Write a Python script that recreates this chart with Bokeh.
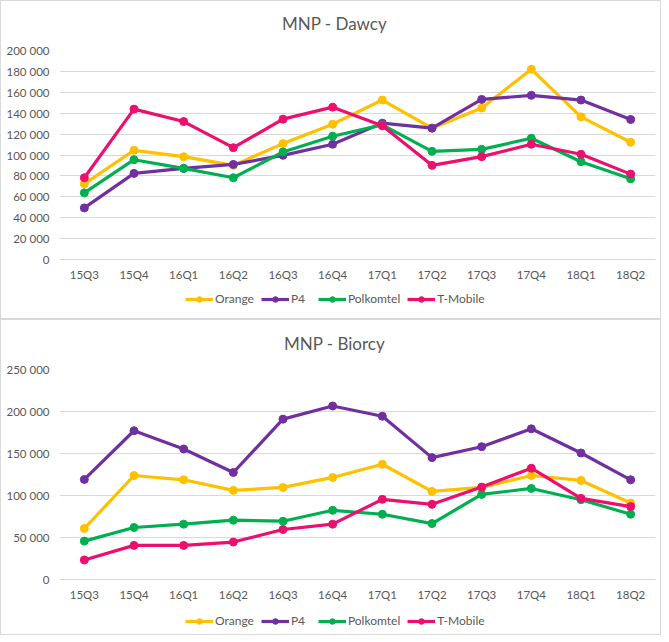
from bokeh.plotting import figure
from bokeh.models import FactorRange, Range1d, Legend, LegendItem, CustomJSTickFormatter, FixedTicker, Label
from bokeh.layouts import column
from bokeh.embed import file_html
from bokeh.resources import INLINE

quarters = ["15Q3", "15Q4", "16Q1", "16Q2", "16Q3", "16Q4", "17Q1", "17Q2", "17Q3", "17Q4", "18Q1", "18Q2"]
operators = ["Orange", "P4", "Polkomtel", "T-Mobile"]

dawcy_orange = [72400, 104500, 98400, 90100, 110900, 129500, 152600, 125700, 144900, 182000, 136500, 112200]
dawcy_p4 = [49400, 82400, 87200, 91000, 99700, 110300, 130500, 125700, 153200, 157100, 152600, 134000]
dawcy_polkomtel = [63800, 95500, 87200, 78200, 102900, 118000, 128800, 103500, 105400, 116000, 93600, 77200]
dawcy_tmobile = [78200, 143900, 132000, 107000, 134300, 145800, 127900, 90100, 98400, 110300, 100700, 81700]

biorcy_orange = [60700, 123800, 118700, 106100, 109600, 121500, 137200, 104900, 109600, 123800, 117900, 91100]
biorcy_p4 = [119100, 177100, 155400, 127400, 190900, 206600, 194400, 145100, 158100, 179400, 150600, 118700]
biorcy_polkomtel = [45700, 61900, 65900, 70600, 69400, 82400, 77700, 66600, 101300, 108400, 95000, 77700]
biorcy_tmobile = [23300, 40600, 40600, 44600, 59500, 65900, 95400, 89500, 110000, 132500, 96600, 86800]

dawcy_ticks = [0, 20000, 40000, 60000, 80000, 100000, 120000, 140000, 160000, 180000, 200000]
biorcy_ticks = [0, 50000, 100000, 150000, 200000, 250000]

colors = ["#FFC000", "#7030A0", "#00B050", "#EC0F6E"]
FONT = "Lato"
GRAY = "#595959"
W = 659


def make_title(text, height, x, y):
    f = figure(width=W, height=height, output_backend="svg", toolbar_location=None,
               x_range=Range1d(0, 1), y_range=Range1d(0, 1), title=None,
               x_axis_type=None, y_axis_type=None, min_border=0)
    f.outline_line_color = None
    f.grid.visible = False
    f.add_layout(Label(x=x, y=y, x_units="screen", y_units="screen", text=text,
                       text_align="center", text_baseline="middle",
                       text_font=FONT, text_font_size="17px", text_color=GRAY))
    return f


def make_chart(series, ymax, ticks, height, top, bottom):
    p = figure(x_range=FactorRange(*quarters), y_range=Range1d(0, ymax),
               width=W, height=height, output_backend="svg", toolbar_location=None,
               min_border_left=58, min_border_right=5, min_border_top=top,
               min_border_bottom=bottom, title=None)
    p.outline_line_color = None
    p.xgrid.grid_line_color = None
    p.ygrid.grid_line_color = "#D9D9D9"
    p.ygrid.grid_line_width = 1
    p.yaxis.ticker = FixedTicker(ticks=ticks)
    p.yaxis.formatter = CustomJSTickFormatter(code="""
        return tick.toString().replace(/\\B(?=(\\d{3})+(?!\\d))/g, ' ');
    """)
    for ax in (p.xaxis, p.yaxis):
        ax.axis_line_color = None
        ax.major_tick_line_color = None
        ax.minor_tick_line_color = None
        ax.major_tick_out = 0
        ax.major_tick_in = 0
        ax.minor_tick_out = 0
        ax.minor_tick_in = 0
        ax.major_label_text_font = FONT
        ax.major_label_text_font_size = "11.5px"
        ax.major_label_text_color = GRAY
    p.xaxis.axis_line_color = "#D9D9D9"
    p.yaxis.major_label_standoff = 10
    p.xaxis.major_label_standoff = 8

    for vals, c in zip(series, colors):
        p.line(quarters, vals, line_color=c, line_width=3.2)
        p.scatter(quarters, vals, size=8, fill_color=c, line_color=c)
    return p


def make_legend(height, y):
    f = figure(width=W, height=height, output_backend="svg", toolbar_location=None,
               x_range=Range1d(0, 1), y_range=Range1d(0, 1),
               x_axis_type=None, y_axis_type=None, min_border=0)
    f.outline_line_color = None
    f.grid.visible = False
    items = []
    for name, c in zip(operators, colors):
        # legend-only renderers, kept outside the visible range
        l = f.line(x=[-5, -4], y=[-5, -4], line_color=c, line_width=3.2)
        s = f.scatter(x=[-5], y=[-5], size=8, fill_color=c, line_color=c)
        items.append(LegendItem(label=name, renderers=[l, s]))
    legend = Legend(items=items, orientation="horizontal", location=(126, y),
                    border_line_color=None, background_fill_alpha=0,
                    label_text_font=FONT, label_text_font_size="12px", label_text_color=GRAY,
                    glyph_width=28, glyph_height=14, label_standoff=2, spacing=7,
                    padding=0, margin=0)
    f.add_layout(legend, "center")
    return f


t1 = make_title("MNP - Dawcy", 40, 275, 18)
p1 = make_chart([dawcy_orange, dawcy_p4, dawcy_polkomtel, dawcy_tmobile],
                200000, dawcy_ticks, 243, 9, 25)
l1 = make_legend(34, 12)
t2 = make_title("MNP - Biorcy", 40, 275, 17)
p2 = make_chart([biorcy_orange, biorcy_p4, biorcy_polkomtel, biorcy_tmobile],
                250000, biorcy_ticks, 243, 9, 24)
l2 = make_legend(31, 6)

panel_style = {"border": "1px solid #D9D9D9"}
top_panel = column(t1, p1, l1, spacing=0, styles=panel_style)
bottom_panel = column(t2, p2, l2, spacing=0, styles=panel_style)

layout = column(top_panel, bottom_panel, spacing=0)
open("out.html", "w").write(file_html(layout, INLINE))
